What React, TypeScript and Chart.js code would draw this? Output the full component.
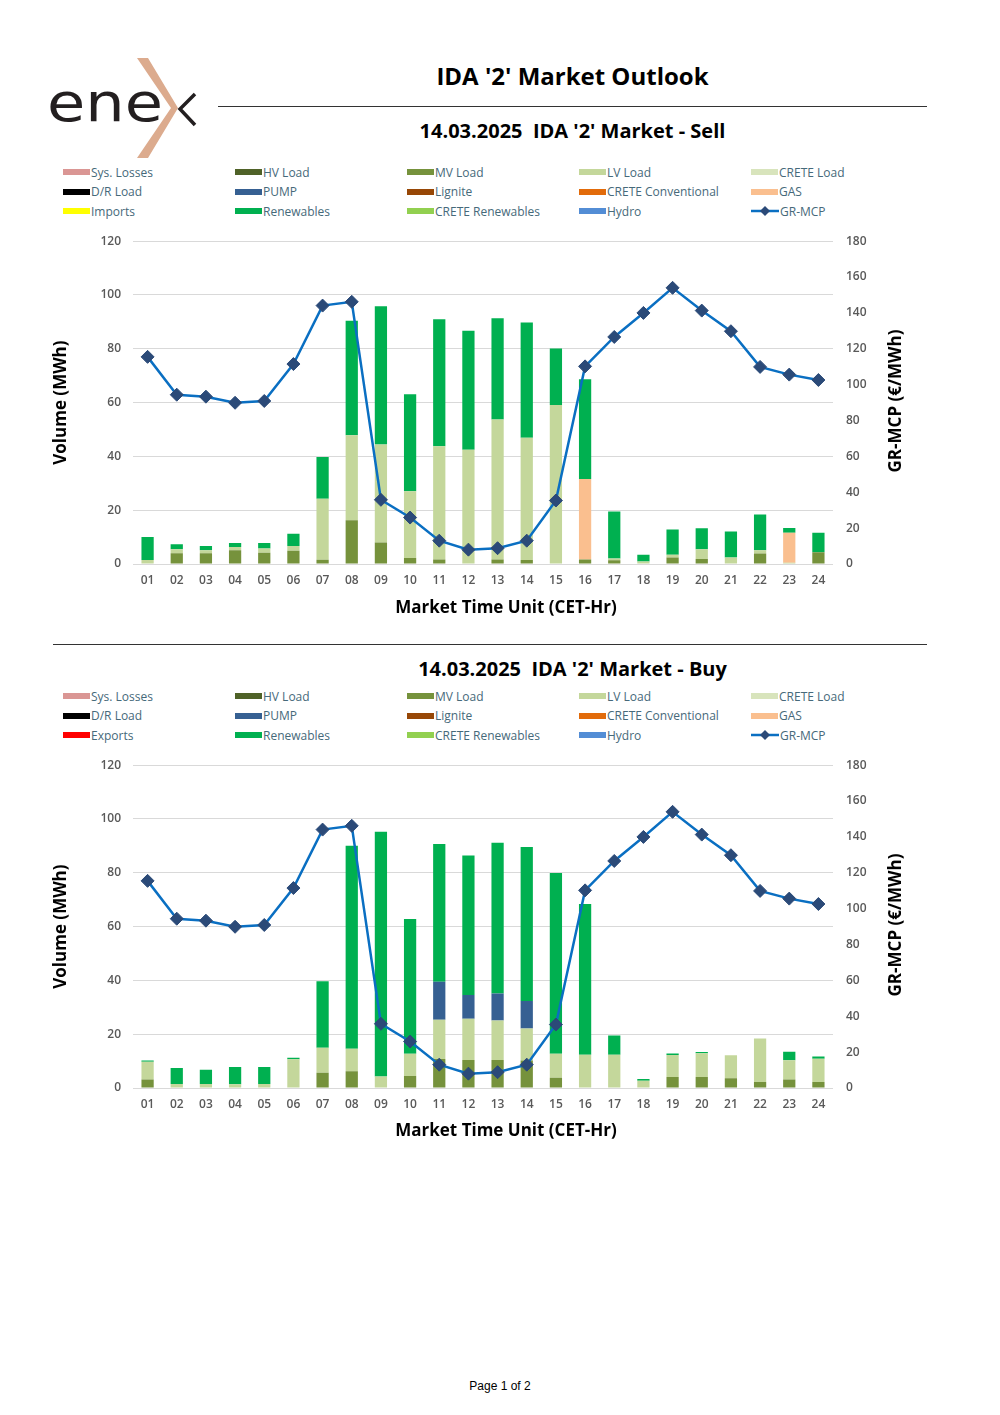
import React, { useEffect, useRef } from "react";
import { Chart, registerables } from "chart.js";
Chart.register(...registerables);

const hours = ["01","02","03","04","05","06","07","08","09","10","11","12","13","14","15","16","17","18","19","20","21","22","23","24"];
const volumeTicks = [0, 20, 40, 60, 80, 100, 120];
const priceTicks = [0, 20, 40, 60, 80, 100, 120, 140, 160, 180];

const grMcp = [115.5, 94.4, 93.3, 89.9, 90.9, 111.5, 144.1, 146.2, 35.8, 25.9, 13.0, 8.0, 8.8, 13.0, 35.4, 110.2, 126.6, 140.0, 154.0, 141.3, 129.8, 109.9, 105.6, 102.6];

const sellMV = [0, 4.0, 4.0, 5.1, 4.2, 4.9, 1.6, 16.3, 8.0, 2.2, 1.7, 0, 1.7, 1.5, 0, 1.7, 1.4, 0, 2.4, 1.9, 0, 3.9, 0, 4.4];
const sellLV = [1.5, 1.5, 1.1, 1.2, 1.6, 1.8, 22.7, 31.6, 36.4, 24.8, 42.1, 42.5, 52.0, 45.4, 59.1, 0, 0.6, 0.9, 1.0, 3.6, 2.4, 1.2, 0.5, 0];
const sellGas = [0, 0, 0, 0, 0, 0, 0, 0, 0, 0, 0, 0, 0, 0, 0, 29.9, 0, 0, 0, 0, 0, 0, 11.1, 0];
const sellRenewables = [8.5, 1.8, 1.6, 1.5, 2.0, 4.5, 15.5, 42.5, 51.4, 36.1, 47.2, 44.2, 37.7, 42.9, 21.0, 37.1, 17.5, 2.5, 9.4, 7.8, 9.7, 13.3, 1.8, 7.2];

const buyMV = [3.2, 0, 0, 0, 0, 0, 5.7, 6.2, 0, 4.5, 10.8, 10.4, 10.4, 10.2, 3.8, 0, 0, 0, 4.1, 4.1, 3.6, 2.2, 3.2, 2.2];
const buyLV = [6.6, 1.5, 1.5, 1.4, 1.5, 10.7, 9.3, 8.4, 4.3, 8.2, 14.6, 15.3, 14.7, 11.9, 8.9, 12.4, 12.4, 2.7, 8.2, 8.8, 8.6, 16.2, 7.1, 8.7];
const buyPump = [0, 0, 0, 0, 0, 0, 0, 0, 0, 0, 14.1, 8.9, 10.0, 10.2, 0, 0, 0, 0, 0, 0, 0, 0, 0, 0];
const buyRenewables = [0.4, 5.9, 5.3, 6.4, 6.3, 0.5, 24.7, 75.5, 91.0, 50.1, 51.2, 51.8, 56.1, 57.3, 67.2, 56.0, 7.1, 0.6, 0.5, 0.5, 0, 0, 3.2, 0.8];

const sellLegend = [
  ["Sys. Losses", "#da9694"], ["HV Load", "#4f6228"], ["MV Load", "#76923c"], ["LV Load", "#c4d79b"], ["CRETE Load", "#d8e4bc"],
  ["D/R Load", "#000000"], ["PUMP", "#366092"], ["Lignite", "#974706"], ["CRETE Conventional", "#e26b0a"], ["GAS", "#fabf8f"],
  ["Imports", "#ffff00"], ["Renewables", "#00b050"], ["CRETE Renewables", "#92d050"], ["Hydro", "#538dd5"], ["GR-MCP", "line"],
];
const buyLegend = [
  ["Sys. Losses", "#da9694"], ["HV Load", "#4f6228"], ["MV Load", "#76923c"], ["LV Load", "#c4d79b"], ["CRETE Load", "#d8e4bc"],
  ["D/R Load", "#000000"], ["PUMP", "#366092"], ["Lignite", "#974706"], ["CRETE Conventional", "#e26b0a"], ["GAS", "#fabf8f"],
  ["Exports", "#ff0000"], ["Renewables", "#00b050"], ["CRETE Renewables", "#92d050"], ["Hydro", "#538dd5"], ["GR-MCP", "line"],
];

const FONT = "'Open Sans', 'DejaVu Sans', sans-serif";
const LINE_COLOR = "#0a6fc2";
const MARKER_COLOR = "#2b4a78";

type Series = { label: string; color: string; data: number[] };

function makeConfig(series: Series[]): any {
  const barSets = series.map((s) => ({
    type: "bar",
    label: s.label,
    data: s.data,
    backgroundColor: s.color,
    borderWidth: 0,
    yAxisID: "y",
    order: 2,
    barPercentage: 0.42,
    categoryPercentage: 1,
    stack: "s",
  }));
  return {
    type: "bar",
    data: {
      labels: hours,
      datasets: [
        {
          type: "line",
          label: "GR-MCP",
          data: grMcp,
          borderColor: LINE_COLOR,
          borderWidth: 2.5,
          pointStyle: "rectRot",
          pointRadius: 6.5,
          pointBackgroundColor: MARKER_COLOR,
          pointBorderColor: MARKER_COLOR,
          pointBorderWidth: 1,
          yAxisID: "y1",
          order: 1,
          tension: 0,
        },
        ...barSets,
      ],
    },
    options: {
      animation: false,
      responsive: false,
      devicePixelRatio: window.devicePixelRatio || 1,
      layout: { padding: { top: 11, left: 0, right: 0, bottom: 0 } },
      plugins: { legend: { display: false }, tooltip: { enabled: false } },
      scales: {
        x: {
          stacked: true,
          grid: { display: false, drawTicks: false },
          border: { display: false },
          ticks: { color: "#595959", font: { family: FONT, size: 12, weight: "600" }, padding: 9, maxRotation: 0 },
          title: { display: false },
          afterFit: (s: any) => { s.height = 61; },
        },
        y: {
          stacked: true,
          position: "left",
          min: 0,
          max: 120,
          afterBuildTicks: (s: any) => { s.ticks = volumeTicks.map((v) => ({ value: v })); },
          grid: { color: "#d9d9d9", lineWidth: 1, drawTicks: false },
          border: { display: false },
          ticks: { color: "#595959", font: { family: FONT, size: 12, weight: "600" }, padding: 12 },
          title: {
            display: true,
            text: "Volume (MWh)",
            color: "#000000",
            font: { family: FONT, size: 17, weight: "bold" },
            padding: { top: 11, bottom: 0 },
          },
          afterFit: (s: any) => { s.width = 93; },
        },
        y1: {
          stacked: false,
          position: "right",
          min: 0,
          max: 180,
          afterBuildTicks: (s: any) => { s.ticks = priceTicks.map((v) => ({ value: v })); },
          grid: { display: false, drawTicks: false },
          border: { display: false },
          ticks: { color: "#595959", font: { family: FONT, size: 12, weight: "600" }, padding: 13 },
          afterFit: (s: any) => { s.width = 87; },
        },
      },
    },
  };
}

function ChartBox({ series, top }: { series: Series[]; top: number }) {
  const ref = useRef<HTMLCanvasElement | null>(null);
  useEffect(() => {
    if (!ref.current) return;
    const chart = new Chart(ref.current, makeConfig(series));
    return () => chart.destroy();
  }, []);
  return (
    <canvas
      ref={ref}
      width={880}
      height={404}
      style={{ position: "absolute", left: 40, top, width: 880, height: 404 }}
    />
  );
}

function Legend({ items, top }: { items: string[][]; top: number }) {
  return (
    <>
      {items.map(([label, color], i) => {
        const col = i % 5;
        const row = Math.floor(i / 5);
        const left = 63 + col * 172;
        const y = top + row * 19.7;
        return (
          <div
            key={label}
            style={{
              position: "absolute",
              left,
              top: y - 9,
              height: 18,
              display: "flex",
              alignItems: "center",
              fontFamily: FONT,
              fontSize: 12,
              color: "#46697a",
              whiteSpace: "nowrap",
            }}
          >
            {color === "line" ? (
              <svg width={28} height={12} style={{ marginRight: 1 }}>
                <line x1={0} y1={6} x2={28} y2={6} stroke={LINE_COLOR} strokeWidth={2.5} />
                <polygon points="14,1 19,6 14,11 9,6" fill={MARKER_COLOR} />
              </svg>
            ) : (
              <span style={{ display: "inline-block", width: 27, height: 6, background: color, marginRight: 1 }} />
            )}
            <span>{label}</span>
          </div>
        );
      })}
    </>
  );
}

function RightTitle({ cy }: { cy: number }) {
  return (
    <div
      style={{
        position: "absolute",
        left: 895 - 100,
        top: cy - 12,
        width: 200,
        height: 24,
        lineHeight: "24px",
        textAlign: "center",
        transform: "rotate(-90deg)",
        fontFamily: FONT,
        fontWeight: 700,
        fontSize: 17,
        color: "#000",
        whiteSpace: "nowrap",
      }}
    >
      GR-MCP (€/MWh)
    </div>
  );
}

function XTitle({ cy }: { cy: number }) {
  return (
    <div
      style={{
        position: "absolute",
        left: 506 - 200,
        top: cy - 12,
        width: 400,
        height: 24,
        lineHeight: "24px",
        textAlign: "center",
        fontFamily: FONT,
        fontWeight: 700,
        fontSize: 17,
        color: "#000",
        whiteSpace: "nowrap",
      }}
    >
      Market Time Unit (CET-Hr)
    </div>
  );
}

export default function App() {
  const sellSeries: Series[] = [
    { label: "MV Load", color: "#76923c", data: sellMV },
    { label: "LV Load", color: "#c4d79b", data: sellLV },
    { label: "GAS", color: "#fabf8f", data: sellGas },
    { label: "Renewables", color: "#00b050", data: sellRenewables },
  ];
  const buySeries: Series[] = [
    { label: "MV Load", color: "#76923c", data: buyMV },
    { label: "LV Load", color: "#c4d79b", data: buyLV },
    { label: "PUMP", color: "#366092", data: buyPump },
    { label: "Renewables", color: "#00b050", data: buyRenewables },
  ];
  return (
    <div style={{ position: "absolute", left: 0, top: 0, width: 1000, height: 1415, background: "#fff", fontFamily: FONT }}>
      <svg width={220} height={170} style={{ position: "absolute", left: 0, top: 0 }}>
        <text x={47} y={121} fontFamily="'DejaVu Sans', sans-serif" fontSize={53} fill="#231f20" textLength={116} lengthAdjust="spacingAndGlyphs">ene</text>
        <polygon points="137,58 148,58 178,108 148,158 137,158 171,108" fill="#dcab8e" />
        <polyline points="195,94 180,109 195,125" fill="none" stroke="#231f20" strokeWidth={3.5} />
      </svg>
      <div style={{ position: "absolute", left: 218, top: 60, width: 709, textAlign: "center", fontWeight: 700, fontSize: 24, lineHeight: "32px", color: "#000" }}>
        IDA '2' Market Outlook
      </div>
      <div style={{ position: "absolute", left: 218, top: 106, width: 709, height: 1, background: "#333" }} />
      <div style={{ position: "absolute", left: 218, top: 118, width: 709, textAlign: "center", fontWeight: 700, fontSize: 20, lineHeight: "26px", color: "#000", whiteSpace: "pre" }}>
        {"14.03.2025  IDA '2' Market - Sell"}
      </div>
      <Legend items={sellLegend} top={172} />
      <ChartBox series={sellSeries} top={221} />
      <RightTitle cy={401} />
      <XTitle cy={607} />

      <div style={{ position: "absolute", left: 53, top: 644, width: 874, height: 1, background: "#333" }} />
      <div style={{ position: "absolute", left: 218, top: 656, width: 709, textAlign: "center", fontWeight: 700, fontSize: 20, lineHeight: "26px", color: "#000", whiteSpace: "pre" }}>
        {"14.03.2025  IDA '2' Market - Buy"}
      </div>
      <Legend items={buyLegend} top={696} />
      <ChartBox series={buySeries} top={745} />
      <RightTitle cy={925} />
      <XTitle cy={1130} />

      <div style={{ position: "absolute", left: 0, top: 1379, width: 1000, textAlign: "center", fontFamily: "'Liberation Sans', Arial, sans-serif", fontSize: 12, color: "#000" }}>
        Page 1 of 2
      </div>
    </div>
  );
}
